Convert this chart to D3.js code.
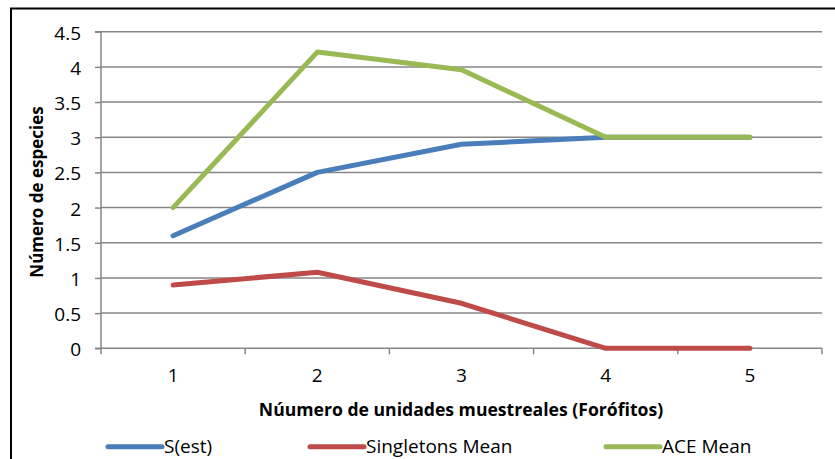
<!DOCTYPE html>
<html><head><meta charset="utf-8">
<script src="https://cdn.jsdelivr.net/npm/d3@7"></script>
<style>
body{margin:0;background:#fff;}
text{font-family:"Open Sans",Lato,sans-serif;fill:#000;}
</style></head>
<body><svg id="c" width="835" height="459"></svg>
<script>
const categories = ["1","2","3","4","5"];
const sEst = [1.6, 2.5, 2.9, 3.0, 3.0];
const singletonsMean = [0.9, 1.08, 0.64, 0, 0];
const aceMean = [2.0, 4.21, 3.96, 3.0, 3.0];
const yTicks = [0,0.5,1,1.5,2,2.5,3,3.5,4,4.5];
const seriesNames = ["S(est)","Singletons Mean","ACE Mean"];
const colors = ["#4a7ebb","#be4b48","#98b954"];

const svg = d3.select("#c");
// outer border
svg.append("rect").attr("x",11).attr("y",8.5).attr("width",840).attr("height",470)
  .attr("fill","none").attr("stroke","#000").attr("stroke-width",2);

const L=101, R=822, T=31.7, B=348.3;
const x = d3.scaleBand().domain(categories).range([L,R]);
const y = d3.scaleLinear().domain([0,4.5]).range([B,T]);

// gridlines
svg.append("g").selectAll("line").data(yTicks.filter(d=>d>0)).join("line")
  .attr("x1",L).attr("x2",R).attr("y1",d=>y(d)).attr("y2",d=>y(d))
  .attr("stroke","#868686").attr("stroke-width",1.5);

// y axis
const ya = svg.append("g").attr("transform",`translate(${L},0)`)
  .call(d3.axisLeft(y).tickValues(yTicks).tickSize(6).tickPadding(14).tickFormat(d=>String(d)));
ya.select(".domain").attr("stroke","#868686").attr("stroke-width",1.5).attr("d",`M-6,${B}H0V${T}H-6`);
ya.selectAll(".tick line").attr("stroke","#868686").attr("stroke-width",1.5);
ya.selectAll("text").style("font-size","19px").attr("fill","#000").attr("dy","0.39em");

// x axis
const xa = svg.append("g").attr("transform",`translate(0,${B})`)
  .call(d3.axisBottom(x).tickSize(0).tickPadding(0));
xa.select(".domain").attr("stroke","#868686").attr("stroke-width",1.5).attr("d",`M${L},0H${R}`);
xa.selectAll("text").style("font-size","19px").attr("fill","#000").attr("y",34).attr("dy","0");
const bounds = categories.map(c=>x(c)).concat([R]);
xa.append("g").selectAll("line").data(bounds).join("line")
  .attr("x1",d=>d).attr("x2",d=>d).attr("y1",0).attr("y2",6)
  .attr("stroke","#868686").attr("stroke-width",1.5);

// lines
const line = d3.line().x((d,i)=>x(categories[i])+x.bandwidth()/2).y(d=>y(d));
[sEst,singletonsMean,aceMean].forEach((s,i)=>{
  svg.append("path").datum(s).attr("d",line).attr("fill","none")
    .attr("stroke",colors[i]).attr("stroke-width",5)
    .attr("stroke-linecap","round").attr("stroke-linejoin","round");
});

// axis titles
svg.append("text").attr("x",461).attr("y",416).attr("text-anchor","middle")
  .style("font-size","17.6px").style("font-weight","bold")
  .text("Núumero de unidades muestreales (Forófitos)");
svg.append("text").attr("transform","translate(43,192) rotate(-90)").attr("text-anchor","middle")
  .style("font-size","17px").style("font-weight","bold").text("Número de especies");

// legend
const legX=[108,310,606];
seriesNames.forEach((n,i)=>{
  svg.append("line").attr("x1",legX[i]).attr("x2",legX[i]+54).attr("y1",446.7).attr("y2",446.7)
    .attr("stroke",colors[i]).attr("stroke-width",5).attr("stroke-linecap","round");
  svg.append("text").attr("x",legX[i]+56).attr("y",453).style("font-size","19px").text(n);
});
</script></body></html>
